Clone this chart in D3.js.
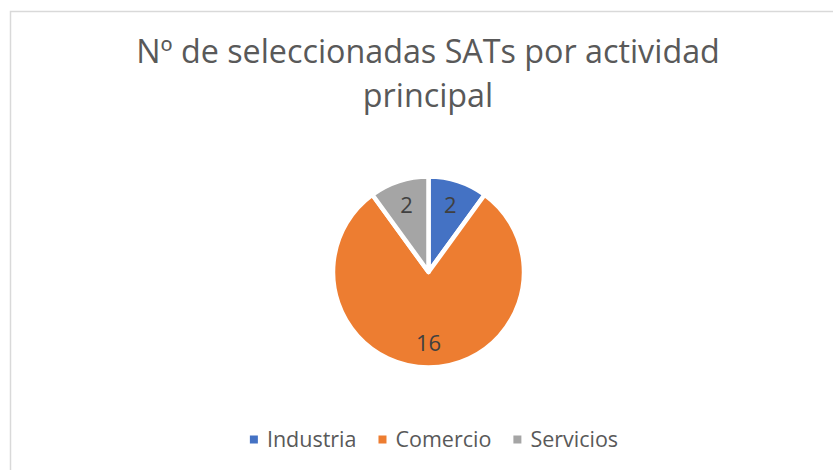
<!DOCTYPE html>
<html>
<head>
<meta charset="utf-8">
<script src="https://cdn.jsdelivr.net/npm/d3@7"></script>
<style>
  body { margin: 0; background: #fff; }
  text { font-family: "Open Sans", "DejaVu Sans", sans-serif; }
</style>
</head>
<body>
<svg id="chart" width="833" height="470"></svg>
<script>
// data
let categories = ["Industria", "Comercio", "Servicios"]
let values = [2, 16, 2]
let colors = ["#4472C4", "#ED7D31", "#A5A5A5"]
let titleLines = ["Nº de seleccionadas SATs por actividad", "principal"]

let svg = d3.select("#chart")

// chart frame (runs off the right / bottom edge)
svg.append("rect")
    .attr("x", 10.5).attr("y", 11.5)
    .attr("width", 900).attr("height", 500)
    .attr("fill", "#fff")
    .attr("stroke", "#d9d9d9")
    .attr("stroke-width", 1.5)

// title
let title = svg.append("g").attr("class", "title")
let t1 = title.append("text")
    .attr("x", 428).attr("y", 63)
    .attr("text-anchor", "middle")
    .attr("fill", "#595959")
    .style("font-size", "28px")
    .text(titleLines[0])
// fit first line to its width in the picture
let w1 = t1.node().getComputedTextLength()
let titleSize = 28 * 584 / w1
t1.style("font-size", titleSize + "px")
title.append("text")
    .attr("x", 428).attr("y", 107)
    .attr("text-anchor", "middle")
    .attr("fill", "#595959")
    .style("font-size", titleSize + "px")
    .text(titleLines[1])

// pie
let cx = 428.5, cy = 272, radius = 95.5
let pie = d3.pie().sort(null).value(function (d) { return d })
let arcs = pie(values)
let arc = d3.arc().innerRadius(0).outerRadius(radius)
let labelArc = d3.arc().innerRadius(radius * 0.74).outerRadius(radius * 0.74)

let g = svg.append("g").attr("transform", `translate(${cx},${cy})`)

g.selectAll(".slice").data(arcs).enter()
    .append("path")
    .attr("class", "slice")
    .attr("d", arc)
    .attr("fill", function (d, i) { return colors[i] })
    .attr("stroke", "#fff")
    .attr("stroke-width", 4.5)
    .attr("stroke-linejoin", "round")

g.selectAll(".lbl").data(arcs).enter()
    .append("text")
    .attr("class", "lbl")
    .attr("transform", function (d) { return `translate(${labelArc.centroid(d)})` })
    .attr("text-anchor", "middle")
    .attr("dy", "0.36em")
    .attr("fill", "#404040")
    .style("font-size", "22px")
    .text(function (d) { return d.value })

// legend
let legend = svg.append("g").attr("class", "legend")
let items = legend.selectAll(".item").data(categories).enter()
    .append("g").attr("class", "item")
items.append("rect")
    .attr("width", 8).attr("height", 8)
    .attr("y", -4)
    .attr("fill", function (d, i) { return colors[i] })
items.append("text")
    .attr("x", 17)
    .attr("dy", "0.36em")
    .attr("fill", "#595959")
    .style("font-size", "21.5px")
    .text(function (d) { return d })

let x = 0
items.each(function () {
    let it = d3.select(this)
    let tw = it.select("text").node().getComputedTextLength()
    it.attr("transform", `translate(${x},0)`)
    x += 17 + tw + 22
})
let total = x - 22
legend.attr("transform", `translate(${434 - total / 2},439.5)`)
</script>
</body>
</html>
